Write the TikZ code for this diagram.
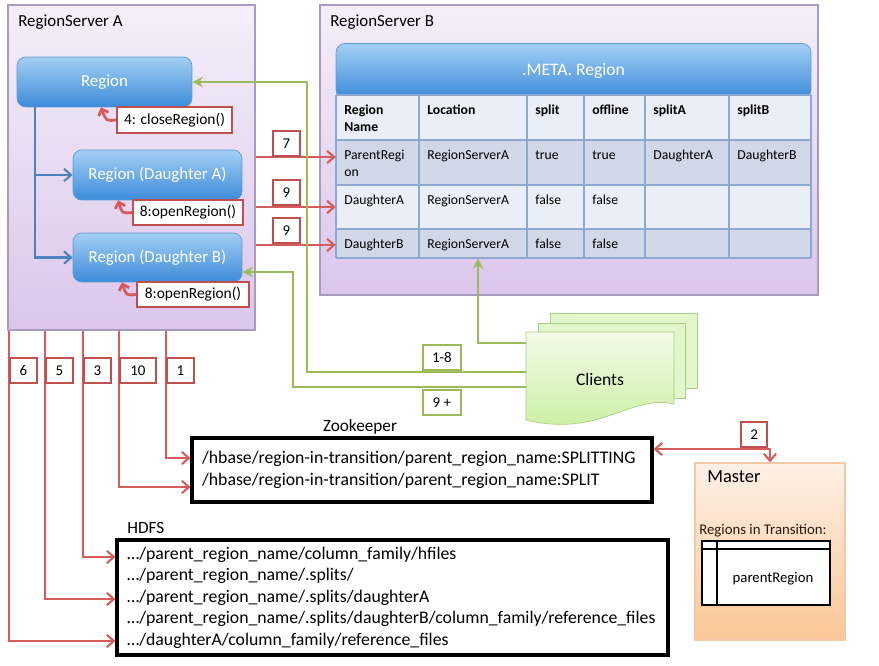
\documentclass[tikz,border=0pt]{standalone}
\usepackage{fontspec}
\setmainfont{Carlito}
\usetikzlibrary{arrows.meta,positioning}
\definecolor{srvtop}{HTML}{F5EEF9}
\definecolor{srvbot}{HTML}{DBC6EB}
\definecolor{srvline}{HTML}{A99BBD}
\definecolor{regtop}{HTML}{A4CFF4}
\definecolor{regbot}{HTML}{3C8BDA}
\definecolor{regline}{HTML}{5B9BD5}
\definecolor{redln}{HTML}{D65C5C}
\definecolor{redbox}{HTML}{C0504D}
\definecolor{grnln}{HTML}{9BBB59}
\definecolor{blueln}{HTML}{4F81BD}
\definecolor{rowA}{HTML}{E9EEF7}
\definecolor{rowB}{HTML}{D0D8E8}
\definecolor{gridln}{HTML}{8EA9D1}
\definecolor{mtop}{HTML}{FDF0E6}
\definecolor{mbot}{HTML}{FAC796}
\definecolor{mline}{HTML}{F2C8A6}
\definecolor{cltop}{HTML}{F2FBE8}
\definecolor{clbot}{HTML}{C8EE9E}
\definecolor{clline}{HTML}{A9CF80}
\tikzset{
  server/.style={draw=srvline, line width=0.8pt, top color=srvtop, bottom color=srvbot, inner sep=0pt},
  region/.style={draw=regline, rounded corners=5pt, top color=regtop, bottom color=regbot,
    text=white, font=\fontsize{9.6}{11}\selectfont},
  callbox/.style={draw=redbox, line width=1pt, fill=white, inner sep=0pt,
    font=\fontsize{8.8}{10}\selectfont},
  numbox/.style={draw=redbox, line width=1pt, fill=white, inner sep=0pt,
    minimum width=0.54cm, minimum height=0.5cm, font=\fontsize{8.5}{10}\selectfont},
  grnbox/.style={numbox, draw=grnln},
  redline/.style={draw=redln, line width=1.2pt, -{Straight Barb[length=4pt,width=7pt]}},
  curl/.style={draw=redln, line width=1.6pt, -{Straight Barb[length=3pt,width=6pt]}},
  grnline/.style={draw=grnln, line width=1.4pt, -{Stealth[length=6pt,width=6pt]}},
  blueline/.style={draw=blueln, line width=1.2pt, -{Straight Barb[length=4pt,width=7pt]}},
  pathbox/.style={draw, line width=1.8pt, fill=white, align=left, inner xsep=0.2cm,
    font=\fontsize{10.1}{12.2}\selectfont},
  cell/.style={anchor=north west, inner sep=0pt, align=left, font=\fontsize{7.8}{9.6}\selectfont},
  headcell/.style={cell, font=\bfseries\fontsize{7.8}{9.6}\selectfont},
  title/.style={inner sep=0pt, anchor=west, font=\fontsize{9.6}{11}\selectfont}
}

\begin{document}
\begin{tikzpicture}[x=0.02cm, y=-0.02cm]
  \useasboundingbox (0,0) rectangle (879,666);

  % region servers
  \node[server, minimum width=4.94cm, minimum height=6.5cm] (rsA) at (131.5,167.5) {};
  \node[title] (rsAlabel) at (18,22) {RegionServer A};
  \node[server, minimum width=9.96cm, minimum height=5.8cm] (rsB) at (569,150) {};
  \node[title] (rsBlabel) at (330,22) {RegionServer B};

  % regions on server A
  \node[region, minimum width=3.5cm, minimum height=1cm] (parent) at (104.5,82) {Region};
  \node[region, minimum width=3.38cm, minimum height=1cm] (dA) at (157.5,175) {Region (Daughter A)};
  \node[region, minimum width=3.38cm, minimum height=0.98cm] (dB) at (157.5,257.5) {Region (Daughter B)};
  \node[callbox, minimum width=2.3cm, minimum height=0.52cm] (close) at (174.5,120) {4: closeRegion()};
  \node[callbox, minimum width=2.2cm, minimum height=0.5cm] (openA) at (188,212.5) {8:openRegion()};
  \node[callbox, minimum width=2.24cm, minimum height=0.5cm] (openB) at (193,294.5) {8:openRegion()};
  \draw[curl] (close.west) .. controls +(-10,1) .. (parent.south -| 101,0);
  \draw[curl] (openA.west) .. controls +(-10,1) .. (dA.south -| 118,0);
  \draw[curl] (openB.west) .. controls +(-10,1) .. (dB.south -| 122,0);
  \draw[blueline] (35,0 |- parent.south) |- (dA.west);
  \draw[blueline] (35,0 |- parent.south) |- (dB.west);

  % .META. region with its table
  \node[region, minimum width=9.5cm, minimum height=1.1cm, font=\fontsize{10}{12}\selectfont]
    (meta) at (573.5,71) {.META. Region};
  \node[minimum width=9.5cm, minimum height=3.26cm, inner sep=0pt] (metatab) at (573.5,176.5) {};
  \fill[rowA] (336,95) rectangle (811,140);
  \fill[rowB] (336,140) rectangle (811,185);
  \fill[rowA] (336,185) rectangle (811,229);
  \fill[rowB] (336,229) rectangle (811,258);
  \foreach \x in {336,419,527,584,645,729,811}
    \draw[gridln, line width=0.8pt] (\x,95) -- (\x,258);
  \foreach \y in {95,140,185,229,258}
    \draw[gridln, line width=0.8pt] (336,\y) -- (811,\y);
  \foreach \x/\t in {336/{Region\\Name},419/Location,527/split,584/offline,645/splitA,729/splitB}
    \node[headcell] at (\x+8,105) {\t};
  \foreach \x/\t in {336/{ParentRegi\\on},419/RegionServerA,527/true,584/true,645/DaughterA,729/DaughterB}
    \node[cell] at (\x+8,150) {\t};
  \foreach \x/\t in {336/DaughterA,419/RegionServerA,527/false,584/false}
    \node[cell] at (\x+8,195) {\t};
  \foreach \x/\t in {336/DaughterB,419/RegionServerA,527/false,584/false}
    \node[cell] at (\x+8,239) {\t};

  % updates of .META.
  \draw[redline] (rsA.east |- 0,157) -- (metatab.west |- 0,157);
  \draw[redline] (rsA.east |- 0,207) -- (metatab.west |- 0,207);
  \draw[redline] (rsA.east |- 0,245) -- (metatab.west |- 0,245);
  \node[numbox, anchor=south west] (n7) at (272,157) {7};
  \node[numbox, anchor=south west] (n9a) at (272,206) {9};
  \node[numbox, anchor=south west] (n9b) at (272,244) {9};

  % clients
  \node[minimum width=2.96cm, minimum height=1.7cm, inner sep=0pt] (clients) at (600,375) {};
  \draw[clline, fill=cltop!60!clbot] (550,313) rectangle (697,388);
  \draw[clline, fill=cltop!60!clbot] (538,323) rectangle (685,398);
  \draw[clline, top color=cltop, bottom color=clbot]
    (526,332) -- (674,332) -- (674,404) .. controls (630,394) and (600,438) .. (526,420) -- cycle;
  \node[font=\fontsize{10}{12}\selectfont] (cltext) at (600,379) {Clients};
  \draw[grnline] (clients.west |- 0,343) -| (478,0 |- metatab.south);
  \draw[grnline] (clients.west |- 0,372) -| (307,0 |- parent.east) -- (parent.east);
  \draw[grnline] (clients.west |- 0,387) -| (293,272) -- (dB.east |- 0,272);
  \node[grnbox, minimum width=0.76cm, anchor=south west] (g18) at (422,371) {1-8};
  \node[grnbox, minimum width=0.76cm, anchor=north west] (g9) at (422,389) {9 +};

  % zookeeper and hdfs
  \node[pathbox, minimum width=9.2cm, minimum height=1.28cm, text width=8.8cm] (zk) at (422,470)
    {/hbase/region-in-transition/parent\_region\_name:SPLITTING\\
     /hbase/region-in-transition/parent\_region\_name:SPLIT};
  \node[font=\fontsize{9.8}{11}\selectfont] (zklabel) at (360,427) {Zookeeper};
  \node[pathbox, minimum width=11.02cm, minimum height=2.3cm, text width=10.62cm]
    (hdfs) at (392.5,597.5)
    {…/parent\_region\_name/column\_family/hfiles\\
     …/parent\_region\_name/.splits/\\
     …/parent\_region\_name/.splits/daughterA\\
     …/parent\_region\_name/.splits/daughterB/column\_family/reference\_files\\
     …/daughterA/column\_family/reference\_files};
  \node[title, font=\fontsize{9.8}{11}\selectfont] (hdfslabel) at (127,528) {HDFS};

  \draw[redline] (166,0 |- rsA.south) |- (zk.west |- 0,458);
  \draw[redline] (119,0 |- rsA.south) |- (zk.west |- 0,487);
  \draw[redline] (83,0 |- rsA.south) |- (hdfs.west |- 0,557);
  \draw[redline] (45,0 |- rsA.south) |- (hdfs.west |- 0,599);
  \draw[redline] (9,0 |- rsA.south) |- (hdfs.west |- 0,641);
  \node[numbox, anchor=north west] (n6) at (9,357) {6};
  \node[numbox, anchor=north west] (n5) at (45,357) {5};
  \node[numbox, anchor=north west] (n3) at (83,357) {3};
  \node[numbox, anchor=north west, minimum width=0.72cm] (n10) at (119,357) {10};
  \node[numbox, anchor=north west] (n1) at (166,357) {1};

  % master
  \node[draw=mline, line width=0.8pt, top color=mtop, bottom color=mbot,
    minimum width=3cm, minimum height=3.54cm] (master) at (770,551.5) {};
  \node[title, font=\fontsize{10.5}{12}\selectfont] (mlabel) at (707,477) {Master};
  \node[title, font=\fontsize{8.4}{10}\selectfont, text=black!80!brown] (ritlabel) at (699,531) {Regions in Transition:};
  \node[draw, line width=1.4pt, fill=white, minimum width=2.56cm, minimum height=1.28cm,
    font=\fontsize{8.4}{10}\selectfont] (rit) at (766,573) {};
  \draw[line width=1.4pt] (rit.north west |- 0,549) -- (rit.north east |- 0,549);
  \draw[line width=1.4pt] (717,0 |- rit.north) -- (717,0 |- rit.south);
  \node[font=\fontsize{8.4}{10}\selectfont] (ritrow) at (773,579) {parentRegion};
  \draw[redline, {Straight Barb[length=4pt,width=7pt]}-{Straight Barb[length=4pt,width=7pt]}]
    (zk.east |- 0,449) -| (master.north);
  \node[numbox, anchor=south east, minimum width=0.52cm] (n2) at (768,448) {2};
\end{tikzpicture}
\end{document}
